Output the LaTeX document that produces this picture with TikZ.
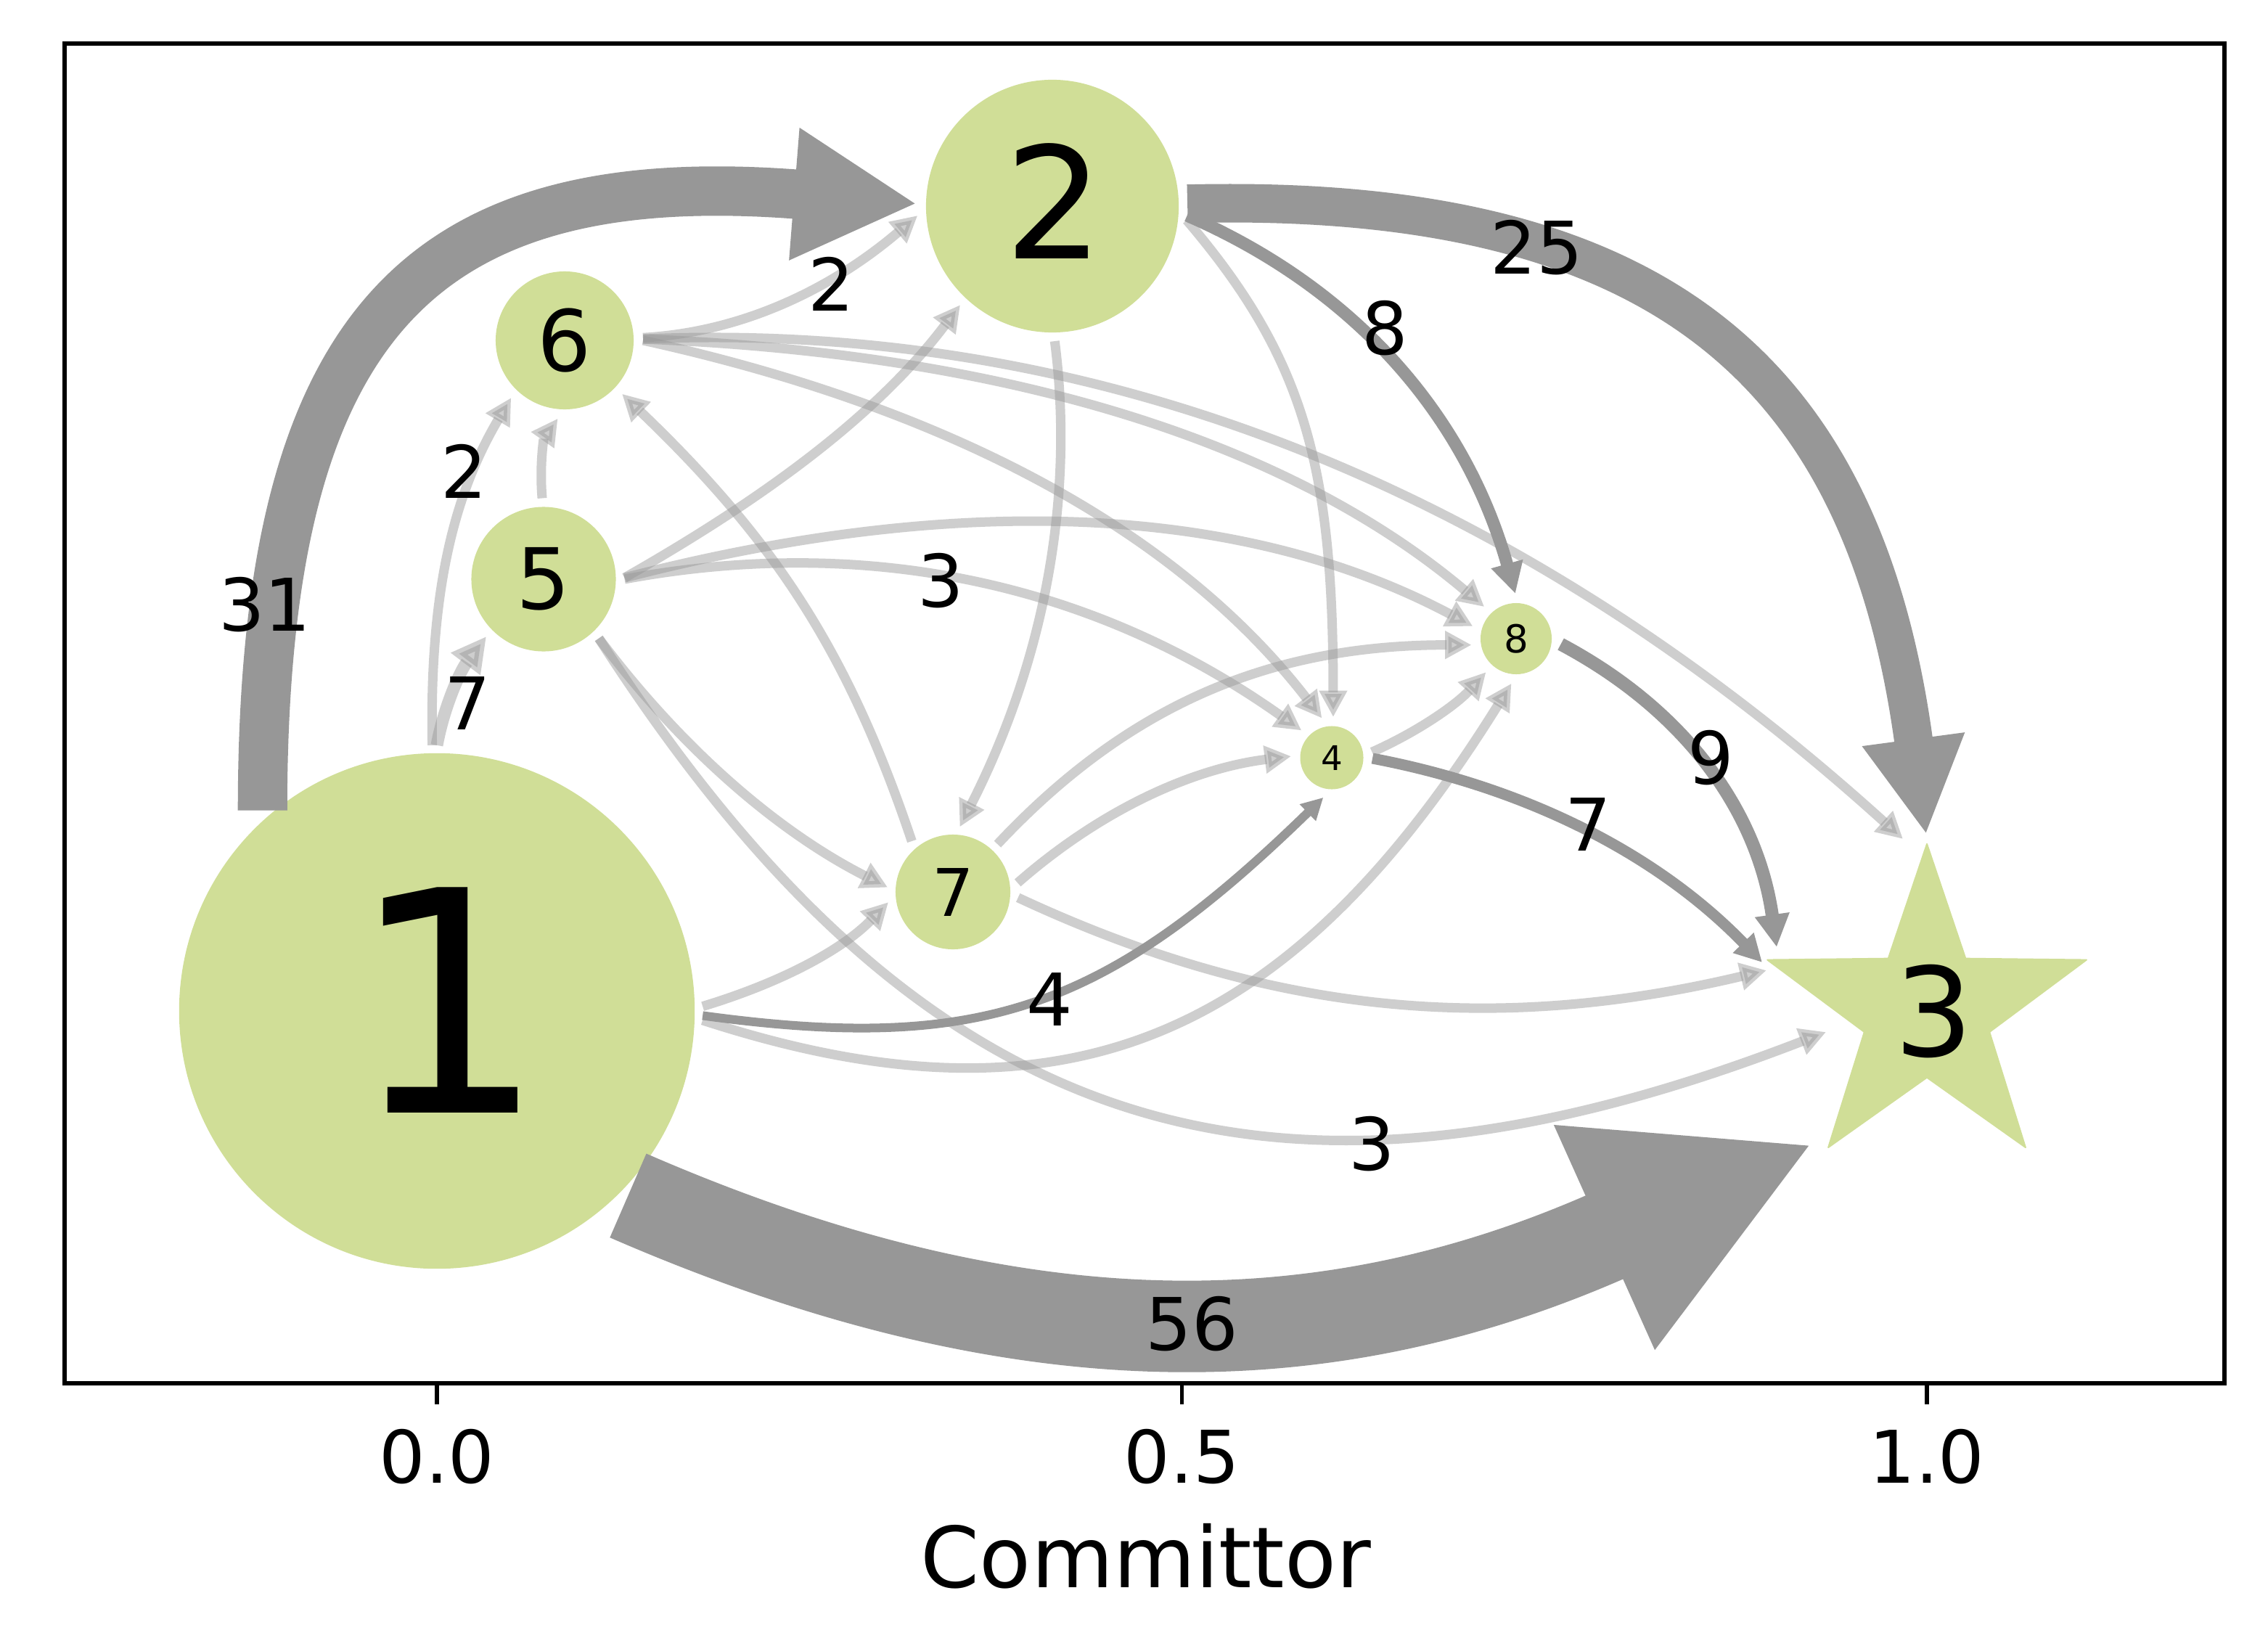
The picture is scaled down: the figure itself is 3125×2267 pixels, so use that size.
\documentclass[tikz,border=0pt]{standalone}
\usepackage{fontspec}
\setmainfont{DejaVu Sans}
\usetikzlibrary{arrows.meta,shapes.geometric,calc}
\definecolor{nodegreen}{RGB}{208,222,151}
\definecolor{edgegray}{RGB}{151,151,151}
\tikzset{
  nd/.style={circle, fill=nodegreen, inner sep=0pt},
  tip/.style={-{Triangle[length=0pt 2.5,width=0pt 2.5]}},
  ltip/.style={-{Triangle[length=0pt 2.8,width=0pt 2.8]}},
  heavy/.style={draw=edgegray, tip},
  light/.style={draw=edgegray, opacity=0.47, ltip, line width=0.13cm},
  elabel/.style={font=\fontsize{28.45}{34}\selectfont, inner sep=0pt},
  axisline/.style={line width=0.055cm, draw=black}
}
\begin{document}
\begin{tikzpicture}[x=0.01cm, y=-0.01cm]
\useasboundingbox[fill=white] (0,0) rectangle (3125,2267);

% axes frame and ticks
\draw[axisline] (89,60) rectangle (3065,1906);
\coordinate (tk0a) at (602,1906);  \coordinate (tk0b) at (602,1935);
\coordinate (tk1a) at (1628.5,1906); \coordinate (tk1b) at (1628.5,1935);
\coordinate (tk2a) at (2655,1906); \coordinate (tk2b) at (2655,1935);
\draw[axisline] (tk0a) -- (tk0b);
\draw[axisline] (tk1a) -- (tk1b);
\draw[axisline] (tk2a) -- (tk2b);
\node[elabel] (tl0) at (602,2007) {0.0};
\node[elabel] (tl1) at (1628.5,2007) {0.5};
\node[elabel] (tl2) at (2655,2007) {1.0};
\node[font=\fontsize{33}{38}\selectfont, anchor=base, inner sep=0pt] (xl) at (1579,2187) {Committor};

% nodes
\node[nd, minimum size=7.1cm, outer sep=0.11cm,
  label={[font=\fontsize{121.2}{130}\selectfont, xshift=0.15cm, yshift=0.15cm]center:1}] (n1) at (602,1393) {};
\node[nd, minimum size=3.48cm, outer sep=0.12cm,
  label={[font=\fontsize{60.9}{66}\selectfont, xshift=0.03cm, yshift=0.065cm]center:2}] (n2) at (1450,284) {};
\node[star, star points=5, star point ratio=2.55, minimum size=4.62cm, inner sep=0pt,
  fill=nodegreen, draw=nodegreen, line width=0.02cm, line join=round,
  label={[font=\fontsize{48.4}{54}\selectfont, xshift=0.1cm]center:3}] (n3) at (2655,1394) {};
\node[nd, minimum size=0.87cm, outer sep=0.125cm, font=\fontsize{13.3}{15}\selectfont] (n4) at (1835,1044) {4};
\node[nd, minimum size=1.99cm, outer sep=0.12cm, font=\fontsize{33.2}{38}\selectfont] (n5) at (749,798) {5};
\node[nd, minimum size=1.90cm, outer sep=0.13cm, font=\fontsize{33.2}{38}\selectfont] (n6) at (778,469) {6};
\node[nd, minimum size=1.58cm, outer sep=0.11cm, font=\fontsize{25.75}{30}\selectfont] (n7) at (1313,1229) {7};
\node[nd, minimum size=0.98cm, outer sep=0.13cm, font=\fontsize{15.1}{17}\selectfont] (n8) at (2089,880) {8};

% light edges
\draw[light, line width=0.17cm] (n1.90) .. controls +(9,-50) and +(-37,49) .. (n5.225);
\draw[light] (n1.91) .. controls +(-4,-209) and +(-80,135) .. (n6.227);
\draw[light] (n5.91) .. controls +(-4,-47) and +(-19,27) .. (n6.265);
\draw[light] (n7.129) .. controls +(-87,-259) and +(212,203) .. (n6.317);
\draw[light] (n6.2) .. controls +(131,-7) and +(-123,105) .. (n2.184);
\draw[light] (n6.1) .. controls +(504,20) and +(-269,-227) .. (n8.135);
\draw[light] (n6.0) .. controls +(427,94) and +(-198,-256) .. (n4.104);
\draw[light] (n6.1) .. controls +(621,-27) and +(-537,-486) .. ($(n3)+(-33,-238)$);
\draw[light] (n5.1) .. controls +(218,-124) and +(-105,139) .. (n2.227);
\draw[light] (n5.1) .. controls +(469,-121) and +(-312,-166) .. (n8.164);
\draw[light] (n5.0) .. controls +(341,-63) and +(-280,-199) .. (n4.138);
\draw[light] (n5.313) .. controls +(113,151) and +(-152,-77) .. (n7.176);
\draw[light] (n5.313) .. controls +(443,689) and +(-773,299) .. ($(n3)+(-139,28)$);
\draw[light] (n2.271) .. controls +(28,216) and +(116,-228) .. (n7.84);
\draw[light] (n2.354) .. controls +(163,191) and +(0,-344) .. (n4.88);
\draw[light] (n1.1) .. controls +(112,-34) and +(-62,64) .. (n7.189);
\draw[light] (n1.358) .. controls +(495,161) and +(-308,495) .. (n8.264);
\draw[light] (n7.47) .. controls +(181,-193) and +(-276,0) .. (n8.188);
\draw[light] (n7.8) .. controls +(114,-100) and +(-137,17) .. (n4.178);
\draw[light] (n7.355) .. controls +(343,160) and +(-378,90) .. ($(n3)+(-221,-57)$);
\draw[light] (n4.8) .. controls +(63,-28) and +(-41,45) .. (n8.228);

% heavy edges
\draw[heavy, line width=0.12cm] (n1.359) .. controls +(382,52) and +(-302,294) .. (n4.258);
\draw[heavy, line width=0.15cm] (n4.359) .. controls +(216,41) and +(-142,-147) .. ($(n3)+(-227,-68)$);
\draw[heavy, line width=0.18cm] (n8.353) .. controls +(173,92) and +(-26,-186) .. ($(n3)+(-207,-89)$);
\draw[heavy, line width=0.17cm] (n2.356) .. controls +(228,99) and +(-70,-249) .. (n8.91);
\draw[heavy, line width=0.53cm] (n2.1) .. controls +(648,-16) and +(-86,-641) .. ($(n3)+(-1,-244)$);
\draw[heavy, line width=0.68cm] (n1.131) .. controls +(0,-674) and +(-683,-54) .. (n2.179);
\draw[heavy, line width=1.26cm] (n1.316) .. controls +(554,241) and +(-655,294) .. ($(n3)+(-157,182)$);

% edge labels
\node[elabel] (e12) at (365,833) {31};
\node[elabel] (e16) at (639,649.5) {2};
\node[elabel] (e15) at (644.5,969.5) {7};
\node[elabel] (e62) at (1145.5,391.5) {2};
\node[elabel] (e28) at (1908,452.5) {8};
\node[elabel] (e54) at (1296,800) {3};
\node[elabel] (e23) at (2117.5,341.5) {25};
\node[elabel] (e83) at (2357.7,1044) {9};
\node[elabel] (e43) at (2188.5,1136) {7};
\node[elabel] (e14) at (1446,1377) {4};
\node[elabel] (e53) at (1890.7,1576) {3};
\node[elabel] (e13) at (1642.5,1824) {56};
\end{tikzpicture}
\end{document}
